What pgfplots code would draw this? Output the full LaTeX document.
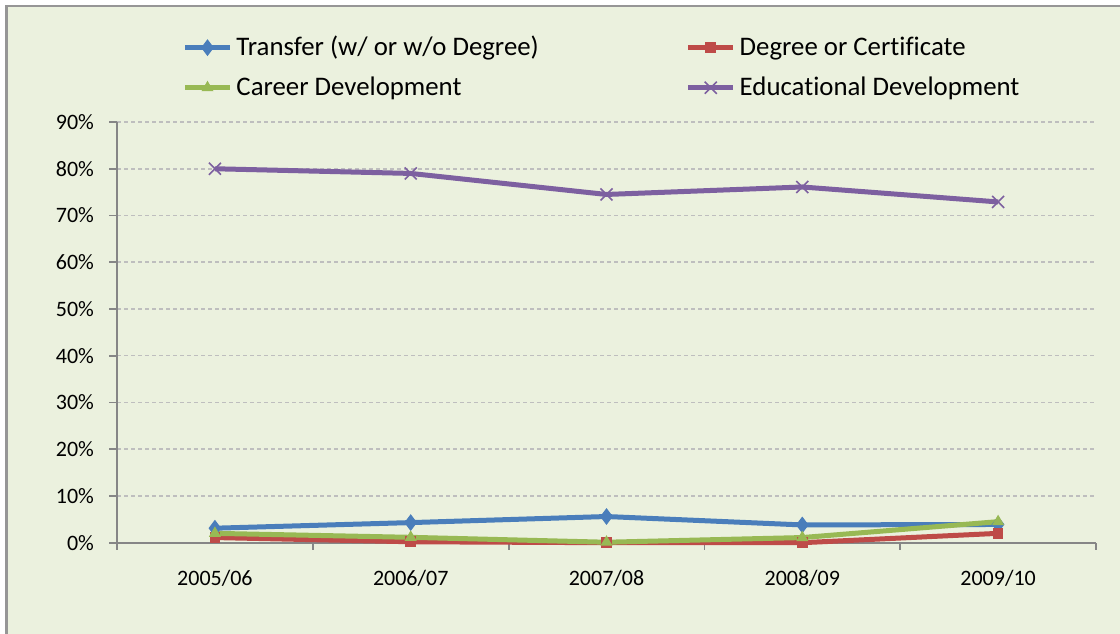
\documentclass[border=0pt]{standalone}
\usepackage{pgfplots}
\pgfplotsset{compat=1.18}
\usepackage{fontspec}
\setmainfont{Carlito}[Ligatures=NoCommon]
\definecolor{bg}{RGB}{235,241,222}
\definecolor{framec}{RGB}{150,150,150}
\definecolor{axgray}{RGB}{134,134,134}
\definecolor{gridgray}{RGB}{190,190,190}
\definecolor{cblue}{RGB}{74,126,187}
\definecolor{cred}{RGB}{190,75,72}
\definecolor{cgreen}{RGB}{152,185,84}
\definecolor{cpurple}{RGB}{125,96,160}
\begin{document}
\begin{tikzpicture}
\path[use as bounding box] (0,0) rectangle (560bp,317bp);
\fill[bg] (3.25bp,0) rectangle (560bp,314bp);
\draw[framec, line width=1.2bp] (3.25bp,0) -- (3.25bp,314bp) -- (560bp,314bp);
\begin{axis}[
  at={(58.5bp,45.65bp)}, anchor=south west,
  width=489.5bp, height=210.35bp, scale only axis,
  xmin=-0.5, xmax=4.5, ymin=0, ymax=90,
  clip=false,
  axis x line=bottom, axis y line=left,
  axis line style={-, draw=axgray, line width=0.9bp},
  tick align=outside,
  xtick={0,1,2,3,4},
  xticklabels={2005/06,2006/07,2007/08,2008/09,2009/10},
  major x tick style={draw=none},
  minor xtick={-0.5,0.5,1.5,2.5,3.5,4.5},
  minor x tick style={draw=axgray, line width=0.9bp},
  minor tick length=3.5bp,
  major tick length=4bp,
  y tick style={draw=axgray, line width=0.9bp},
  ytick={0,10,20,30,40,50,60,70,80,90},
  yticklabels={0\%,10\%,20\%,30\%,40\%,50\%,60\%,70\%,80\%,90\%},
  ymajorgrids,
  major y grid style={dash pattern=on 2bp off 1.5bp, draw=gridgray, line width=0.75bp},
  ticklabel style={font=\fontsize{11bp}{13bp}\selectfont, text=black},
  xticklabel style={yshift=-6bp},
  yticklabel style={xshift=-4bp},
  legend columns=2,
  legend cell align=left,
  legend style={at={(0.0665,1.214)}, anchor=north west, draw=none, fill=none,
    font=\fontsize{13.4bp}{15bp}\selectfont, inner sep=0pt, row sep=5bp,
    /tikz/every even column/.append style={column sep=71.5bp}},
  legend image code/.code={\draw[mark repeat=2,mark phase=2] plot coordinates {(0bp,0bp) (11.25bp,0bp) (22.5bp,0bp)};},
]
\addplot[cblue, line width=2.5bp, mark=diamond*, mark size=3.8bp, mark options={solid, line width=0.5bp}]
  coordinates {(0,3.1) (1,4.3) (2,5.6) (3,3.8) (4,3.9)};
\addlegendentry{Transfer (w/ or w/o Degree)}
\addplot[cred, line width=2.5bp, mark=square*, mark size=2.4bp, mark options={solid, line width=0.5bp}]
  coordinates {(0,1.1) (1,0.2) (2,0) (3,0) (4,2.0)};
\addlegendentry{Degree or Certificate}
\addplot[cgreen, line width=2.5bp, mark=triangle*, mark size=3bp, mark options={solid, line width=0.5bp}]
  coordinates {(0,2.0) (1,1.15) (2,0.1) (3,1.1) (4,4.5)};
\addlegendentry{Career Development}
\addplot[cpurple, line width=2.5bp, mark=x, mark size=4.25bp, mark options={solid, line width=0.8bp}]
  coordinates {(0,80) (1,79) (2,74.5) (3,76.1) (4,72.9)};
\addlegendentry{Educational Development}
\end{axis}
\end{tikzpicture}
\end{document}
